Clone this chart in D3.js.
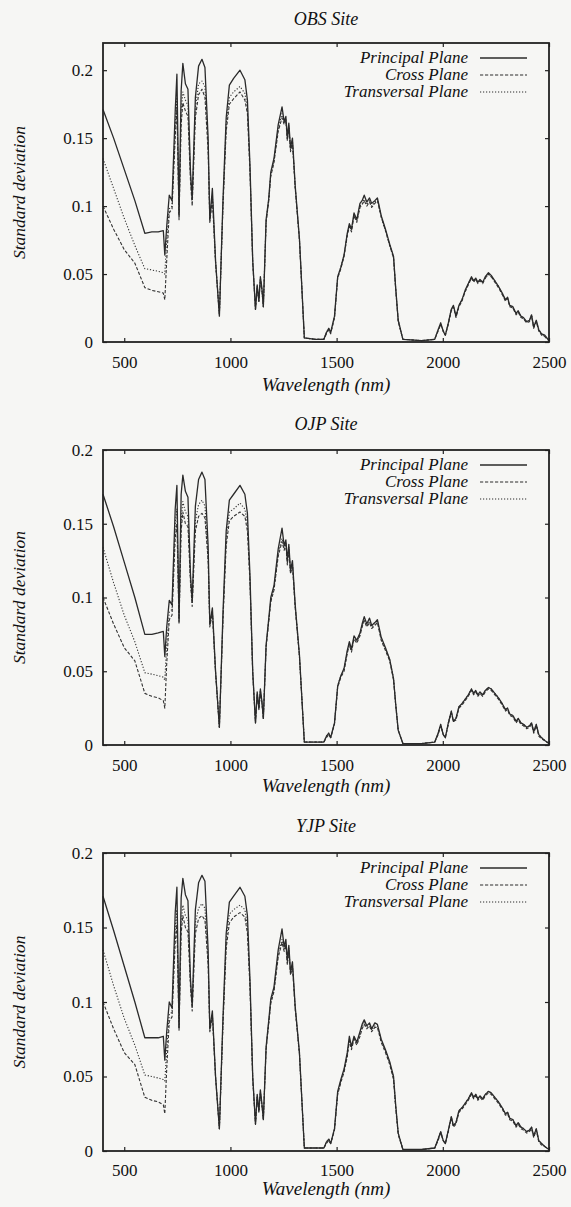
<!DOCTYPE html>
<html><head><meta charset="utf-8">
<script src="https://cdn.jsdelivr.net/npm/d3@7"></script>
<style>body{margin:0;background:#f6f6f4;} svg{display:block;} svg text{font-family:"Liberation Serif","DejaVu Serif",serif !important;}</style>
</head><body>
<svg id="chart" width="571" height="1207"></svg>
<script>
const wavelengths = [
 400,450,500,550,597,630,660,684,691,700,712,725,
 740,748,758,768,776,788,800,812,820,835,850,866,880,895,903,915,930,948,
 965,980,995,1015,1045,1068,1080,1092,1105,1118,1126,1134,1141,1148,1155,1168,1180,1190,1205,1225,1243,1253,1261,1268,1275,1283,1292,1305,1325,1348,
 1400,1440,1452,1463,1472,1490,1505,1520,1535,1550,1560,1570,1582,1595,1610,1620,1630,1642,1655,1665,1680,1692,1710,1730,1750,1768,1778,1790,1812,
 1900,1962,1978,1990,2002,2012,2026,2040,2050,2062,2076,2090,2105,2120,2135,2145,2155,2165,2175,2188,2200,2215,2228,2245,2262,2280,2295,2305,2315,2330,2345,2355,2368,2380,2395,2408,2418,2428,2440,2452,2465,2480,2500];

const obsPrincipal = [
 .171,.150,.127,.104,.080,.081,.081,.082,.064,.085,.108,.104,
 .170,.197,.094,.185,.205,.190,.186,.125,.106,.180,.203,.208,.202,.150,.090,.113,.060,.019,
 .105,.165,.189,.194,.200,.193,.178,.130,.060,.024,.042,.030,.048,.040,.026,.090,.105,.125,.135,.160,.173,.162,.166,.150,.161,.143,.150,.115,.076,.003,
 .002,.002,.007,.010,.007,.019,.048,.055,.064,.080,.087,.083,.095,.090,.102,.104,.108,.103,.106,.102,.104,.106,.093,.083,.072,.063,.040,.016,.002,
 .001,.002,.009,.014,.008,.005,.014,.024,.027,.019,.027,.031,.038,.043,.048,.045,.047,.044,.046,.044,.048,.051,.049,.045,.041,.036,.031,.033,.027,.026,.021,.023,.019,.018,.015,.016,.020,.011,.016,.009,.006,.005,.001];
const obsCross = [
 .100,.083,.068,.058,.040,.038,.037,.036,.031,.060,.095,.098,
 .150,.172,.090,.160,.176,.170,.166,.118,.100,.165,.182,.186,.180,.140,.088,.105,.058,.020,
 .100,.155,.175,.179,.184,.178,.168,.125,.058,.024,.040,.030,.046,.038,.026,.088,.103,.122,.132,.155,.165,.160,.163,.148,.158,.140,.147,.113,.075,.003,
 .002,.002,.006,.009,.006,.018,.047,.054,.063,.078,.085,.081,.093,.088,.099,.101,.104,.100,.103,.099,.102,.104,.092,.082,.071,.062,.039,.015,.002,
 .001,.002,.008,.013,.008,.005,.013,.023,.026,.018,.026,.030,.037,.042,.047,.044,.046,.043,.045,.043,.047,.050,.048,.044,.040,.035,.030,.032,.026,.025,.020,.022,.018,.017,.014,.015,.019,.010,.015,.008,.005,.004,.001];
const obsTransversal = [
 .135,.113,.091,.071,.054,.053,.052,.051,.050,.075,.098,.100,
 .160,.180,.092,.170,.184,.178,.174,.121,.103,.172,.190,.192,.188,.145,.089,.108,.059,.020,
 .102,.160,.180,.184,.188,.183,.172,.128,.059,.024,.041,.030,.047,.039,.026,.089,.104,.123,.133,.157,.168,.161,.164,.149,.159,.141,.148,.114,.075,.003,
 .002,.002,.007,.010,.007,.018,.048,.055,.064,.079,.086,.082,.094,.089,.100,.102,.105,.101,.104,.100,.103,.105,.092,.082,.071,.062,.040,.016,.002,
 .001,.002,.009,.014,.008,.005,.014,.024,.026,.019,.027,.031,.037,.043,.047,.045,.046,.044,.045,.044,.047,.050,.048,.045,.041,.035,.031,.032,.027,.025,.021,.022,.019,.017,.015,.015,.020,.011,.015,.009,.006,.004,.001];

const ojpPrincipal = [
 .170,.148,.124,.100,.075,.075,.076,.077,.060,.080,.098,.095,
 .160,.176,.085,.170,.183,.172,.168,.115,.098,.162,.180,.185,.180,.135,.082,.093,.050,.012,
 .090,.145,.166,.170,.176,.170,.157,.115,.050,.015,.036,.025,.038,.030,.018,.068,.085,.100,.108,.133,.147,.135,.139,.125,.136,.118,.125,.095,.061,.002,
 .002,.002,.006,.008,.005,.015,.040,.047,.052,.064,.070,.065,.074,.071,.076,.082,.087,.082,.086,.081,.083,.085,.073,.066,.058,.045,.028,.010,.001,
 .001,.002,.008,.014,.007,.005,.015,.023,.016,.018,.026,.028,.031,.034,.038,.035,.037,.034,.036,.034,.037,.039,.038,.035,.032,.028,.024,.025,.021,.020,.016,.018,.015,.014,.012,.013,.015,.009,.014,.007,.005,.003,.001];
const ojpCross = [
 .100,.082,.066,.057,.035,.033,.032,.030,.025,.055,.085,.088,
 .140,.150,.082,.145,.158,.150,.148,.110,.094,.145,.155,.157,.154,.125,.080,.090,.049,.012,
 .085,.135,.152,.155,.158,.155,.145,.110,.048,.015,.034,.024,.036,.029,.018,.066,.083,.097,.105,.128,.138,.132,.136,.122,.133,.116,.122,.093,.060,.002,
 .002,.002,.005,.007,.005,.014,.039,.046,.050,.062,.068,.063,.072,.069,.074,.080,.084,.080,.083,.079,.081,.083,.071,.064,.057,.044,.027,.010,.001,
 .001,.002,.007,.013,.007,.005,.014,.022,.016,.017,.025,.027,.030,.033,.037,.034,.036,.033,.035,.033,.036,.038,.037,.034,.031,.027,.023,.024,.020,.019,.015,.017,.014,.013,.011,.012,.014,.008,.013,.006,.004,.003,.001];
const ojpTransversal = [
 .134,.110,.088,.070,.049,.048,.047,.046,.044,.068,.090,.092,
 .150,.160,.083,.152,.165,.158,.155,.112,.096,.152,.163,.166,.162,.128,.081,.091,.049,.012,
 .087,.140,.158,.160,.164,.160,.150,.112,.049,.015,.035,.024,.037,.029,.018,.067,.084,.098,.106,.130,.140,.133,.137,.123,.134,.117,.123,.094,.060,.002,
 .002,.002,.006,.008,.005,.015,.040,.047,.051,.063,.069,.064,.073,.070,.075,.081,.085,.081,.084,.080,.082,.084,.072,.065,.058,.045,.028,.010,.001,
 .001,.002,.008,.014,.007,.005,.015,.023,.016,.018,.026,.028,.031,.034,.038,.035,.036,.034,.035,.034,.037,.039,.038,.035,.032,.028,.024,.025,.021,.020,.016,.018,.015,.014,.012,.013,.015,.009,.014,.007,.005,.003,.001];

const yjpPrincipal = [
 .171,.148,.124,.100,.076,.076,.076,.077,.061,.080,.100,.096,
 .160,.177,.083,.170,.183,.172,.168,.115,.098,.162,.180,.185,.181,.135,.082,.094,.050,.015,
 .090,.146,.167,.171,.177,.171,.158,.115,.050,.018,.038,.027,.041,.032,.021,.070,.087,.102,.110,.135,.149,.137,.142,.128,.138,.120,.127,.097,.066,.002,
 .002,.002,.006,.008,.005,.015,.040,.048,.055,.066,.077,.070,.077,.073,.080,.085,.088,.084,.086,.082,.086,.085,.075,.068,.060,.050,.031,.012,.001,
 .001,.002,.008,.013,.007,.005,.014,.023,.017,.019,.027,.029,.032,.035,.039,.036,.038,.035,.037,.035,.038,.040,.039,.036,.033,.029,.025,.026,.022,.021,.017,.019,.016,.015,.013,.014,.016,.010,.015,.007,.005,.003,.001];
const yjpCross = [
 .100,.082,.066,.058,.036,.034,.033,.031,.025,.055,.087,.090,
 .140,.152,.081,.146,.158,.150,.147,.110,.094,.146,.156,.158,.155,.125,.080,.091,.049,.015,
 .085,.136,.153,.157,.160,.157,.146,.110,.048,.018,.036,.026,.039,.031,.021,.068,.085,.099,.107,.130,.140,.134,.138,.125,.135,.118,.124,.095,.065,.002,
 .002,.002,.005,.007,.005,.014,.038,.046,.053,.063,.074,.068,.075,.071,.077,.082,.085,.082,.084,.080,.083,.083,.073,.066,.058,.048,.029,.011,.001,
 .001,.002,.007,.012,.007,.005,.013,.022,.016,.018,.026,.028,.031,.034,.038,.035,.037,.034,.036,.034,.037,.039,.038,.035,.032,.028,.024,.025,.021,.020,.016,.018,.015,.014,.012,.013,.015,.009,.014,.006,.004,.003,.001];
const yjpTransversal = [
 .135,.111,.089,.071,.051,.050,.049,.048,.047,.068,.092,.093,
 .150,.162,.082,.153,.165,.158,.155,.112,.096,.153,.163,.166,.163,.128,.081,.092,.050,.015,
 .087,.141,.159,.162,.165,.162,.151,.112,.049,.018,.037,.026,.040,.031,.021,.069,.086,.100,.108,.132,.142,.135,.139,.126,.136,.119,.125,.096,.065,.002,
 .002,.002,.006,.008,.005,.015,.039,.047,.054,.064,.075,.069,.076,.072,.078,.083,.086,.083,.085,.081,.084,.084,.074,.067,.059,.049,.030,.012,.001,
 .001,.002,.008,.013,.007,.005,.014,.023,.017,.019,.027,.029,.032,.035,.039,.036,.038,.035,.037,.035,.038,.040,.039,.036,.033,.029,.025,.026,.022,.021,.017,.019,.016,.015,.013,.014,.016,.010,.015,.007,.005,.003,.001];

const xTicks = [500, 1000, 1500, 2000, 2500];
const yTicks = [0, 0.05, 0.1, 0.15, 0.2];
const siteTitles = ["OBS Site", "OJP Site", "YJP Site"];
const seriesNames = ["Principal Plane", "Cross Plane", "Transversal Plane"];
const yMaxima = [0.22, 0.2, 0.2];
const xLabel = "Wavelength (nm)";
const yLabel = "Standard deviation";

const svg = d3.select("#chart");
const serif = '"Liberation Serif","DejaVu Serif",serif';
const ink = "#222";
const dashes = [null, "3.2,1.8", "1.2,1.8"];

const layout = [
  {top: 43, bottom: 342, titleY: 25, xLabelY: 391, tickPad: 14},
  {top: 450, bottom: 745, titleY: 430, xLabelY: 792, tickPad: 14},
  {top: 853, bottom: 1151, titleY: 832, xLabelY: 1195, tickPad: 13}
];
const panelData = [
  [obsPrincipal, obsCross, obsTransversal],
  [ojpPrincipal, ojpCross, ojpTransversal],
  [yjpPrincipal, yjpCross, yjpTransversal]
];
const left = 103, right = 549;

function txt(sel, size, italic) {
  return sel.style("font-family", serif).style("font-size", size + "px")
    .style("font-style", italic ? "italic" : "normal").attr("fill", "#111");
}

layout.forEach((L, p) => {
  const g = svg.append("g");
  const x = d3.scaleLinear().domain([400, 2500]).range([left, right]);
  const y = d3.scaleLinear().domain([0, yMaxima[p]]).range([L.bottom, L.top]);

  [2, 1, 0].forEach(s => {
    const vals = panelData[p][s];
    const pts = wavelengths.map((w, i) => [w, vals[i]]).filter(d => d[1] != null);
    const line = d3.line().x(d => x(d[0])).y(d => y(d[1]));
    g.append("path").attr("d", line(pts)).attr("fill", "none")
      .attr("stroke", s === 0 ? "#2a2a2a" : "#333")
      .attr("stroke-width", s === 0 ? 1.3 : 1.1)
      .attr("stroke-dasharray", dashes[s])
      .attr("stroke-linejoin", "round");
  });

  const styleAxis = sel => {
    sel.attr("font-family", null).attr("font-size", null);
    sel.select(".domain").remove();
    sel.selectAll(".tick line").attr("stroke", ink).attr("stroke-width", 1.2);
    txt(sel.selectAll("text"), 17, false);
  };
  const yfmt = d => d === 0 ? "0" : d3.format("~g")(d);
  const xfmt = d3.format("d");

  g.append("g").attr("transform", `translate(0,${L.bottom})`)
    .call(d3.axisBottom(x).tickValues(xTicks).tickSizeInner(-4).tickSizeOuter(0).tickPadding(L.tickPad).tickFormat(xfmt))
    .call(styleAxis);
  g.append("g").attr("transform", `translate(0,${L.top})`)
    .call(d3.axisTop(x).tickValues(xTicks).tickSizeInner(-4).tickSizeOuter(0).tickFormat(""))
    .call(styleAxis);
  g.append("g").attr("transform", `translate(${left},0)`)
    .call(d3.axisLeft(y).tickValues(yTicks).tickSizeInner(-4).tickSizeOuter(0).tickPadding(10).tickFormat(yfmt))
    .call(styleAxis);
  g.append("g").attr("transform", `translate(${right},0)`)
    .call(d3.axisRight(y).tickValues(yTicks).tickSizeInner(-4).tickSizeOuter(0).tickFormat(""))
    .call(styleAxis);

  g.append("rect").attr("x", left).attr("y", L.top)
    .attr("width", right - left).attr("height", L.bottom - L.top)
    .attr("fill", "none").attr("stroke", ink).attr("stroke-width", 1.8);

  const cx = (left + right) / 2;
  txt(g.append("text").attr("x", cx).attr("y", L.titleY).attr("text-anchor", "middle"), 18, true)
    .text(siteTitles[p]);
  txt(g.append("text").attr("x", cx).attr("y", L.xLabelY).attr("text-anchor", "middle"), 19, true)
    .text(xLabel);
  const cy = (L.top + L.bottom) / 2;
  txt(g.append("text").attr("transform", `translate(25,${cy}) rotate(-90)`).attr("text-anchor", "middle"), 17.5, true)
    .text(yLabel);

  seriesNames.forEach((name, s) => {
    const ly = L.top + 15 + s * 17;
    txt(g.append("text").attr("x", 468).attr("y", ly + 5).attr("text-anchor", "end"), 17, true)
      .text(name);
    g.append("line").attr("x1", 480).attr("x2", 527).attr("y1", ly).attr("y2", ly)
      .attr("stroke", "#2a2a2a").attr("stroke-width", s === 0 ? 1.3 : 1.1)
      .attr("stroke-dasharray", dashes[s]);
  });
});
</script>
</body></html>
